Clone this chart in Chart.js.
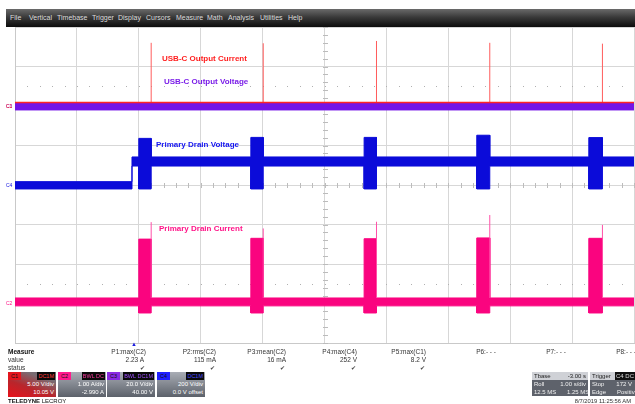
<!DOCTYPE html>
<html>
<head>
<meta charset="utf-8">
<script src="https://cdn.jsdelivr.net/npm/chart.js@4.4.1/dist/chart.umd.min.js"></script>
<style>
  html,body{margin:0;padding:0;background:#fff;}
  #wrap{position:relative;width:635px;height:404px;overflow:hidden;font-family:'Liberation Sans',Arial,sans-serif;color:#222;}
  #c{position:absolute;left:0;top:0;}
  #menubar{position:absolute;left:6px;top:9px;width:629px;height:18px;background:linear-gradient(#6a6a6a 0%,#3a3a3a 45%,#0c0c0c 100%);}
  #menubar span{position:absolute;top:0;line-height:18px;font-size:7px;color:#dcdcdc;white-space:nowrap;}
  .lbl{position:absolute;font-size:8px;font-weight:bold;white-space:nowrap;line-height:10px;}
  .mk{position:absolute;left:6px;font-size:5px;line-height:6px;white-space:nowrap;}
  .m{position:absolute;font-size:6.5px;line-height:8px;white-space:nowrap;color:#333;}
  .chbox{position:absolute;top:372px;width:48px;height:25px;overflow:hidden;}
  .chbox .tag{position:absolute;top:0;left:0;height:8px;line-height:8px;font-size:5.5px;padding:0 3px;color:#111;}
  .chbox .tag2{position:absolute;top:0;right:1px;height:8px;line-height:8px;font-size:5.5px;padding:0 1px;background:#0a0a0a;}
  .chbox .l{position:absolute;right:2px;font-size:6px;line-height:8px;color:#fff;white-space:nowrap;}
  .tb{position:absolute;top:372px;height:24px;overflow:hidden;}
  .tb div{position:relative;height:8px;line-height:8px;font-size:6px;white-space:nowrap;}
  .tb .h{background:#cfd1d6;color:#222;}
  .tb .d{background:#5e626b;color:#f2f2f2;}
  .tb .r{position:absolute;right:2px;top:0;}
  .tb .lft{position:absolute;left:2px;top:0;}
</style>
</head>
<body>
<div id="wrap">
  <div id="menubar">
    <span style="left:4px">File</span>
    <span style="left:23px">Vertical</span>
    <span style="left:51px">Timebase</span>
    <span style="left:86px">Trigger</span>
    <span style="left:112px">Display</span>
    <span style="left:140px">Cursors</span>
    <span style="left:170px">Measure</span>
    <span style="left:201px">Math</span>
    <span style="left:222px">Analysis</span>
    <span style="left:254px">Utilities</span>
    <span style="left:282px">Help</span>
  </div>
  <canvas id="c" width="635" height="404"></canvas>

  <div class="lbl" style="left:162px;top:54px;color:#ff1f1f">USB-C Output Current</div>
  <div class="lbl" style="left:164px;top:77px;color:#7a1de8">USB-C Output Voltage</div>
  <div class="lbl" style="left:156px;top:140px;color:#1414f0">Primary Drain Voltage</div>
  <div class="lbl" style="left:159px;top:224px;color:#ff1488">Primary Drain Current</div>

  <div id="markers"></div>

  <div class="m" style="left:131px;top:341px;color:#1a1ae0;font-size:6px;line-height:6px">▲</div>

  <div class="m" style="left:8px;top:348px;font-weight:bold;color:#111">Measure</div>
  <div class="m" style="left:8px;top:356px">value</div>
  <div class="m" style="left:8px;top:364px">status</div>
  <div id="measures"></div>

  <div class="chbox" style="left:8px;background:linear-gradient(20deg,#e8121a 0%,#b8262c 40%,#7a6c72 75%,#6a6a72 100%)">
    <span class="tag" style="background:#e3161d">C1</span>
    <span class="tag2" style="color:#ff3a3a">DC1M</span>
    <div class="l" style="top:8px">5.00 V/div</div>
    <div class="l" style="top:16px">10.05 V</div>
  </div>
  <div class="chbox" style="left:58px;background:linear-gradient(#a9adb5,#5c616a)">
    <span class="tag" style="background:#ff1a8c">C2</span>
    <span class="tag2" style="color:#ff3aa0">BWL DC</span>
    <div class="l" style="top:8px">1.00 A/div</div>
    <div class="l" style="top:16px">-2.990 A</div>
  </div>
  <div class="chbox" style="left:107px;background:linear-gradient(#a9adb5,#5c616a)">
    <span class="tag" style="background:#8a2be2">C3</span>
    <span class="tag2" style="color:#a050ff">BWL DC1M</span>
    <div class="l" style="top:8px">20.0 V/div</div>
    <div class="l" style="top:16px">40.00 V</div>
  </div>
  <div class="chbox" style="left:157px;background:linear-gradient(#a9adb5,#5c616a)">
    <span class="tag" style="background:#2020ff">C4</span>
    <span class="tag2" style="color:#4a4aff">DC1M</span>
    <div class="l" style="top:8px">200 V/div</div>
    <div class="l" style="top:16px">0.0 V offset</div>
  </div>

  <div class="m" style="left:8px;top:397px;font-size:6px;color:#111"><b>TELEDYNE</b> LECROY</div>

  <div class="tb" style="left:532px;width:56px">
    <div class="h"><span class="lft">Tbase</span><span class="r">-3.00 s</span></div>
    <div class="d"><span class="lft">Roll</span><span class="r">1.00 s/div</span></div>
    <div class="d"><span class="lft">12.5 MS</span><span class="r" style="right:-6px">1.25 MS/s</span></div>
  </div>
  <div class="tb" style="left:590px;width:46px">
    <div class="h"><span class="lft">Trigger</span><span class="r" style="right:1px;background:#111;color:#ddd;padding:0 1px">C4 DC</span></div>
    <div class="d"><span class="lft">Stop</span><span class="r" style="right:4px">172 V</span></div>
    <div class="d"><span class="lft">Edge</span><span class="r" style="right:-2px">Positive</span></div>
  </div>
  <div class="m" style="right:4px;top:397px;font-size:5.8px;color:#333">8/7/2019 11:25:56 AM</div>
</div>

<script>
// ---------------- DATA ----------------
// Time axis: seconds, 1.00 s/div, 10 divisions
const timeMin = -2;
const timeMax = 8;

// Channel settings
const channelNames = ['C1', 'C2', 'C3', 'C4'];
const unitsPerDiv  = [5.00, 1.00, 20.0, 200];
const offsets      = [10.05, -2.990, 40.00, 0.0];

// Switching bursts of the primary side (s)
const burstStart = [0.00, 1.81, 3.64, 5.46, 7.27];
const burstEnd   = [0.20, 2.01, 3.84, 5.67, 7.49];

// C4 Primary Drain Voltage (V): envelope [low, high]
const drainVStepTime  = -0.11;
const drainVIdle      = [-20, 17];
const drainVBus       = [96, 142];
const drainVBurstLow  = [-20, -20, -20, -20, -20];
const drainVBurstHigh = [236, 241, 241, 252, 240];

// C2 Primary Drain Current (A): envelope [low, high]
const drainIBase      = [-0.07, 0.13];
const drainIBurstLow  = [-0.25, -0.25, -0.25, -0.25, -0.25];
const drainIBurstHigh = [1.62, 1.64, 1.63, 1.65, 1.64];
const drainISpike     = [2.05, 1.89, 2.06, 2.23, 1.98];

// C1 USB-C Output Current (probe, V)
const outIBase  = 0.40;
const outISpike = [7.95, 7.89, 8.18, 7.95, 7.84];

// C3 USB-C Output Voltage (V): envelope [low, high]
const outVBand = [-2.0, 1.6];

// Measurements
const measureNames  = ['P1:max(C2)', 'P2:rms(C2)', 'P3:mean(C2)', 'P4:max(C4)', 'P5:max(C1)', 'P6:- - -', 'P7:- - -', 'P8:- - -'];
const measureValues = ['2.23 A', '115 mA', '16 mA', '252 V', '8.2 V', '', '', ''];
const measureOk     = [true, true, true, true, true, false, false, false];

// ---------------- build datasets ----------------
function burstEnvelope(level, burstLevels, startLevel, stepTime) {
  const pts = [];
  if (stepTime !== undefined) {
    pts.push({x: timeMin, y: startLevel}, {x: stepTime, y: startLevel}, {x: stepTime, y: level});
  } else {
    pts.push({x: timeMin, y: level});
  }
  for (let i = 0; i < burstStart.length; i++) {
    pts.push({x: burstStart[i], y: level}, {x: burstStart[i], y: burstLevels[i]},
             {x: burstEnd[i], y: burstLevels[i]}, {x: burstEnd[i], y: level});
  }
  pts.push({x: timeMax, y: level});
  return pts;
}
function spikes(base, peaks) {
  const pts = [];
  for (let i = 0; i < burstEnd.length; i++) {
    pts.push({x: burstEnd[i], y: base}, {x: burstEnd[i], y: peaks[i]}, {x: burstEnd[i], y: null});
  }
  return pts;
}
const flat = v => [{x: timeMin, y: v}, {x: timeMax, y: v}];

const RED = '#ff2424', RED_SP = '#ff5c5c', PURPLE = '#7414e6', BLUE = '#0b0bd9', PINK = '#fa047f', PINK_SP = '#ff50a8';
const common = {pointRadius: 0, tension: 0, spanGaps: false, borderJoinStyle: 'miter'};

const datasets = [
  {...common, label: 'USB-C Output Current', yAxisID: 'yC1', data: flat(outIBase), borderColor: RED, borderWidth: 1.5, fill: false},
  {...common, label: 'USB-C Output Current spikes', yAxisID: 'yC1', data: spikes(outIBase, outISpike), borderColor: RED_SP, borderWidth: 1, fill: false},
  {...common, label: 'USB-C Output Voltage hi', yAxisID: 'yC3', data: flat(outVBand[1]), borderColor: PURPLE, backgroundColor: PURPLE, borderWidth: 1, fill: '+1'},
  {...common, label: 'USB-C Output Voltage lo', yAxisID: 'yC3', data: flat(outVBand[0]), borderColor: PURPLE, borderWidth: 1, fill: false},
  {...common, label: 'Primary Drain Voltage hi', yAxisID: 'yC4', data: burstEnvelope(drainVBus[1], drainVBurstHigh, drainVIdle[1], drainVStepTime), borderColor: BLUE, backgroundColor: BLUE, borderWidth: 1, fill: '+1'},
  {...common, label: 'Primary Drain Voltage lo', yAxisID: 'yC4', data: burstEnvelope(drainVBus[0], drainVBurstLow, drainVIdle[0], drainVStepTime), borderColor: BLUE, borderWidth: 1, fill: false},
  {...common, label: 'Primary Drain Current spikes', yAxisID: 'yC2', data: spikes(drainIBase[1], drainISpike), borderColor: PINK_SP, borderWidth: 1, fill: false},
  {...common, label: 'Primary Drain Current hi', yAxisID: 'yC2', data: burstEnvelope(drainIBase[1], drainIBurstHigh), borderColor: PINK, backgroundColor: PINK, borderWidth: 1, fill: '+1'},
  {...common, label: 'Primary Drain Current lo', yAxisID: 'yC2', data: burstEnvelope(drainIBase[0], drainIBurstLow), borderColor: PINK, borderWidth: 1, fill: false}
];

// one vertical scale per channel: 8 divisions, value = div*scale - offset
const scales = {
  x: {type: 'linear', min: timeMin, max: timeMax,
      ticks: {display: false, stepSize: 1},
      grid: {color: '#d7d7d7', lineWidth: 1, drawTicks: false},
      border: {display: true, color: '#c9c9c9'}},
  y: {type: 'linear', min: -4, max: 4,
      ticks: {display: false, stepSize: 1},
      grid: {color: '#d7d7d7', lineWidth: 1, drawTicks: false},
      border: {display: true, color: '#c9c9c9'}}
};
channelNames.forEach((n, i) => {
  scales['y' + n] = {type: 'linear', display: false,
    min: -4 * unitsPerDiv[i] - offsets[i], max: 4 * unitsPerDiv[i] - offsets[i]};
});

// centre-line minor ticks and dotted guide lines
const scopeGrid = {
  id: 'scopeGrid',
  beforeDatasetsDraw(chart) {
    const {ctx, scales: {x, y}} = chart;
    ctx.save();
    ctx.fillStyle = '#bcbcbc';
    const cx = Math.round(x.getPixelForValue((timeMin + timeMax) / 2));
    const cy = Math.round(y.getPixelForValue(0));
    for (let k = -20; k <= 20; k++) {
      const py = Math.round(y.getPixelForValue(k * 0.2));
      ctx.fillRect(cx - 2, py, 5, 1);
    }
    for (let k = 0; k <= 50; k++) {
      const px = Math.round(x.getPixelForValue(timeMin + k * 0.2));
      ctx.fillRect(px, cy - 2, 1, 5);
    }
    ctx.fillStyle = '#b0b0b0';
    [2.5, -2.5].forEach(v => {
      const py = Math.round(y.getPixelForValue(v));
      for (let k = 1; k < 50; k++) {
        const px = Math.round(x.getPixelForValue(timeMin + k * 0.2));
        ctx.fillRect(px, py, 1, 1);
      }
    });
    ctx.restore();
  }
};

const chart = new Chart(document.getElementById('c'), {
  type: 'line',
  data: {datasets},
  options: {
    responsive: false,
    devicePixelRatio: 1,
    animation: false,
    events: [],
    layout: {padding: {left: 15, top: 27, right: 1, bottom: 61}},
    scales,
    plugins: {legend: {display: false}, tooltip: {enabled: false},
              filler: {propagate: false}}
  },
  plugins: [scopeGrid]
});

// channel ground markers on the left edge
const markerColors = {C1: '#ff2020', C2: '#ff1488', C3: '#7a1de8', C4: '#1414e0'};
const mk = document.getElementById('markers');
['C3', 'C1', 'C4', 'C2'].forEach(n => {
  const py = chart.scales['y' + n].getPixelForValue(0);
  const s = document.createElement('div');
  s.className = 'mk';
  s.style.top = (py - 3) + 'px';
  s.style.color = markerColors[n];
  s.textContent = n;
  mk.appendChild(s);
});

// measurement table
const ms = document.getElementById('measures');
const colRight = [146, 216, 286, 357, 426, 496, 566, 636];
measureNames.forEach((name, i) => {
  const h = document.createElement('div');
  h.className = 'm';
  h.style.right = (635 - colRight[i]) + 'px';
  h.style.top = '348px';
  h.textContent = name;
  ms.appendChild(h);
  if (measureValues[i]) {
    const v = document.createElement('div');
    v.className = 'm';
    v.style.right = (635 - colRight[i] + (i === 0 ? 2 : 0)) + 'px';
    v.style.top = '356px';
    v.textContent = measureValues[i];
    ms.appendChild(v);
  }
  if (measureOk[i]) {
    const c = document.createElement('div');
    c.className = 'm';
    c.style.right = (635 - colRight[i] + 1) + 'px';
    c.style.top = '364px';
    c.style.fontSize = '6px';
    c.style.color = '#444';
    c.textContent = '✔';
    ms.appendChild(c);
  }
});
</script>
</body>
</html>
